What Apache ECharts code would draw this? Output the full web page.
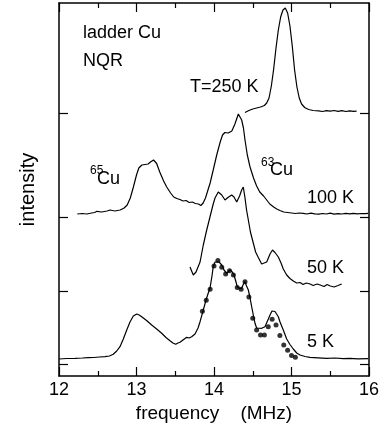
<!DOCTYPE html>
<html>
<head>
<meta charset="utf-8">
<script src="https://cdn.jsdelivr.net/npm/echarts@6/dist/echarts.min.js"></script>
<style>
  html, body { margin: 0; padding: 0; background: #fff; }
  #chart { width: 385px; height: 441px; }
</style>
</head>
<body>
<div id="chart"></div>
<script>
// Cu NQR spectra of the ladder site, stacked by temperature.
// Each trace: [frequency (MHz), intensity above its own baseline (a.u.)]
const spec250K = [[14.40,0.5],[14.45,2.5],[14.50,4],[14.55,5],[14.60,6],[14.65,7.5],[14.68,10],[14.71,15],[14.74,27],[14.77,44],[14.80,65],[14.83,83],[14.86,96],[14.89,103],[14.92,105],[14.95,100],[14.98,87],[15.01,67],[15.04,43],[15.07,26],[15.10,15],[15.13,9],[15.17,5.5],[15.22,3.5],[15.28,2.5],[15.35,2.2],[15.40,1.5],[15.45,2.3],[15.50,1.8],[15.55,2.5],[15.60,1.7],[15.65,2.4],[15.70,1.5],[15.75,2.2],[15.80,1.6],[15.84,1.8]];

const spec100K = [[12.236,3],[12.30,3.5],[12.36,3.0],[12.42,4.0],[12.46,4.5],[12.49,5.7],[12.51,4.5],[12.55,5],[12.62,6],[12.66,7],[12.72,6],[12.79,7],[12.84,9],[12.88,12],[12.92,19],[12.96,30],[13.00,42],[13.03,49],[13.07,52],[13.11,52.5],[13.15,53],[13.18,55],[13.22,57],[13.26,53.5],[13.30,45],[13.35,36],[13.39,30],[13.44,24],[13.48,20],[13.52,18.5],[13.56,17.5],[13.60,16],[13.64,16.5],[13.68,14.5],[13.72,15],[13.76,13.5],[13.80,13],[13.83,11.5],[13.86,14],[13.89,19],[13.95,34],[13.99,47],[14.035,62],[14.08,75],[14.11,82],[14.14,84.5],[14.185,84],[14.23,86],[14.27,93],[14.314,103],[14.335,102],[14.357,97],[14.38,89],[14.40,77],[14.43,62],[14.465,50],[14.51,39],[14.55,31],[14.59,25],[14.64,21],[14.68,17],[14.72,13],[14.77,10],[14.81,8],[14.85,6.5],[14.90,5],[14.95,4.5],[15.00,4],[15.05,3.5],[15.10,4],[15.15,3.7],[15.20,3],[15.25,3.8],[15.30,3.2],[15.35,2.8],[15.40,3.5],[15.45,3],[15.50,3.8],[15.55,2.9],[15.60,3.4],[15.65,3],[15.70,3.6],[15.75,3.1],[15.80,3.7],[15.85,3.2],[15.90,3.5],[15.95,3.3],[15.99,3.7]];

const spec50K = [[13.69,24],[13.733,16],[13.768,19],[13.82,29],[13.862,46],[13.906,61],[13.948,74],[13.99,87],[14.013,93],[14.055,99],[14.10,96],[14.142,91],[14.18,93.5],[14.228,96],[14.258,94],[14.293,89],[14.33,95],[14.357,101],[14.378,104],[14.40,93],[14.42,81],[14.443,71],[14.47,59],[14.507,48],[14.537,39],[14.572,33.5],[14.615,27],[14.638,26.5],[14.68,29],[14.723,37],[14.755,41],[14.787,38.5],[14.83,34],[14.865,28],[14.894,22],[14.938,16],[14.98,12.5],[15.023,10],[15.067,8],[15.11,8.5],[15.15,6.5],[15.19,8],[15.24,7],[15.28,5.5],[15.33,7],[15.37,6],[15.42,4.5],[15.46,6.5],[15.50,5],[15.55,4],[15.60,5.5],[15.648,7]];

const spec5K = [[12.00,5],[12.10,5.5],[12.206,5.7],[12.30,6],[12.378,6.3],[12.45,6.5],[12.52,7],[12.594,7.3],[12.65,8],[12.70,9.7],[12.745,13],[12.787,17.3],[12.83,25],[12.874,34],[12.916,42],[12.959,48],[13.003,50],[13.035,49],[13.067,47.3],[13.13,43.5],[13.196,39],[13.26,35],[13.325,30.7],[13.38,26.5],[13.432,23.3],[13.47,21],[13.506,19.7],[13.535,21],[13.561,21.7],[13.60,24],[13.648,26.7],[13.68,26],[13.712,27.3],[13.755,30],[13.794,36],[13.82,42.3],[13.862,54],[13.897,64],[13.926,71],[13.948,75.7],[13.974,88],[13.99,97.3],[14.013,102],[14.035,103.3],[14.065,102],[14.10,99],[14.129,94],[14.164,90.7],[14.206,94],[14.232,92.5],[14.258,89],[14.284,82],[14.30,77.3],[14.33,75.5],[14.357,75.7],[14.38,80],[14.40,82.3],[14.42,78],[14.443,74],[14.465,66],[14.486,57.3],[14.507,49],[14.529,40.7],[14.55,36],[14.572,34.7],[14.615,35.7],[14.658,37.3],[14.69,43],[14.723,49],[14.748,53],[14.765,54],[14.787,52.5],[14.83,47.3],[14.852,42],[14.894,34],[14.938,25],[14.98,19.5],[15.023,15],[15.067,11],[15.11,9],[15.174,7.5],[15.239,6.7],[15.342,6.2],[15.454,5.7],[15.561,6],[15.665,5.3],[15.755,5.7],[15.858,5.2],[15.99,5.3]];

// Simulated 5 K line shape (dots)
const sim5K = [[13.85,52.7],[13.90,63.7],[13.95,74.7],[14.00,98],[14.05,103.5],[14.10,96.7],[14.15,90],[14.20,93.3],[14.25,89],[14.30,76.5],[14.35,74.8],[14.40,82.3],[14.45,67],[14.50,45.7],[14.55,34],[14.60,29],[14.65,29],[14.70,37.3],[14.75,44.7],[14.80,39],[14.85,28.5],[14.90,19],[14.95,13.7],[15.00,8.5],[15.05,6.7]];

// Vertical baseline of each trace (a.u.), also used as the y tick positions
const baselineOffset = { T250: 263, T100: 159, T50: 85, T5: 12 };
const xTicks = [12, 13, 14, 15, 16];

const FONT = "'Liberation Sans', Arial, Helvetica, sans-serif";

function shift(trace, off) {
  return trace.map(p => [p[0], p[1] + off]);
}

const chart = echarts.init(document.getElementById('chart'), null, { renderer: 'canvas' });

const frameLine = { show: true, onZero: false, lineStyle: { color: '#000', width: 1.5 } };
const tickStyle = { color: '#000', width: 1.2 };
const yTickValues = [baselineOffset.T5, baselineOffset.T50, baselineOffset.T100, baselineOffset.T250];

const lineSeries = (name, data) => ({
  name, type: 'line', data, showSymbol: false, symbol: 'none',
  lineStyle: { color: '#000', width: 1.2 }, animation: false, z: 3
});

chart.setOption({
  animation: false,
  backgroundColor: '#fff',
  grid: { left: 59, right: 16, top: 3, bottom: 65, containLabel: false },
  xAxis: [
    {
      type: 'value', position: 'bottom', min: xTicks[0], max: xTicks[xTicks.length - 1], interval: 1,
      axisLine: frameLine,
      axisTick: { show: true, inside: true, length: 9, lineStyle: tickStyle },
      minorTick: { show: true, splitNumber: 2, length: 5, lineStyle: tickStyle },
      splitLine: { show: false },
      axisLabel: { show: true, color: '#000', fontFamily: FONT, fontSize: 18, margin: 5, showMinLabel: true, showMaxLabel: true },
      name: 'frequency    (MHz)', nameLocation: 'middle', nameGap: 27,
      nameTextStyle: { color: '#000', fontFamily: FONT, fontSize: 19 }
    },
    {
      type: 'value', position: 'top', min: xTicks[0], max: xTicks[xTicks.length - 1], interval: 1,
      axisLine: frameLine,
      axisTick: { show: true, inside: true, length: 9, lineStyle: tickStyle },
      minorTick: { show: true, splitNumber: 2, length: 5, lineStyle: tickStyle },
      splitLine: { show: false },
      axisLabel: { show: false }
    }
  ],
  yAxis: [
    {
      type: 'value', position: 'left', min: 0, max: 373,
      axisLine: frameLine,
      axisTick: { show: true, inside: true, length: 9, lineStyle: tickStyle, customValues: yTickValues },
      axisLabel: { show: false },
      splitLine: { show: false },
      name: 'intensity', nameLocation: 'middle', nameRotate: 90, nameGap: 21,
      nameTextStyle: { color: '#000', fontFamily: FONT, fontSize: 20 }
    },
    {
      type: 'value', position: 'right', min: 0, max: 373,
      axisLine: frameLine,
      axisTick: { show: true, inside: true, length: 9, lineStyle: tickStyle, customValues: yTickValues },
      axisLabel: { show: false },
      splitLine: { show: false }
    }
  ],
  series: [
    lineSeries('250 K', shift(spec250K, baselineOffset.T250)),
    lineSeries('100 K', shift(spec100K, baselineOffset.T100)),
    lineSeries('50 K', shift(spec50K, baselineOffset.T50)),
    lineSeries('5 K', shift(spec5K, baselineOffset.T5)),
    {
      name: '5 K simulation', type: 'scatter', data: shift(sim5K, baselineOffset.T5),
      symbol: 'circle', symbolSize: 5, itemStyle: { color: '#000' }, z: 4, animation: false
    }
  ],
  graphic: [
    { type: 'text', x: 83, y: 33, style: { text: 'ladder Cu', font: `18px ${FONT}`, fill: '#000', verticalAlign: 'middle' } },
    { type: 'text', x: 83, y: 61, style: { text: 'NQR', font: `18px ${FONT}`, fill: '#000', verticalAlign: 'middle' } },
    { type: 'text', x: 190, y: 87, style: { text: 'T=250 K', font: `18px ${FONT}`, fill: '#000', verticalAlign: 'middle' } },
    { type: 'text', x: 90, y: 171, style: { text: '65', font: `12px ${FONT}`, fill: '#000', verticalAlign: 'middle' } },
    { type: 'text', x: 97, y: 179, style: { text: 'Cu', font: `18px ${FONT}`, fill: '#000', verticalAlign: 'middle' } },
    { type: 'text', x: 261, y: 163, style: { text: '63', font: `12px ${FONT}`, fill: '#000', verticalAlign: 'middle' } },
    { type: 'text', x: 270, y: 170.5, style: { text: 'Cu', font: `18px ${FONT}`, fill: '#000', verticalAlign: 'middle' } },
    { type: 'text', x: 307, y: 198, style: { text: '100 K', font: `18px ${FONT}`, fill: '#000', verticalAlign: 'middle' } },
    { type: 'text', x: 307, y: 268, style: { text: '50 K', font: `18px ${FONT}`, fill: '#000', verticalAlign: 'middle' } },
    { type: 'text', x: 307, y: 342, style: { text: '5 K', font: `18px ${FONT}`, fill: '#000', verticalAlign: 'middle' } }
  ]
});
</script>
</body>
</html>
